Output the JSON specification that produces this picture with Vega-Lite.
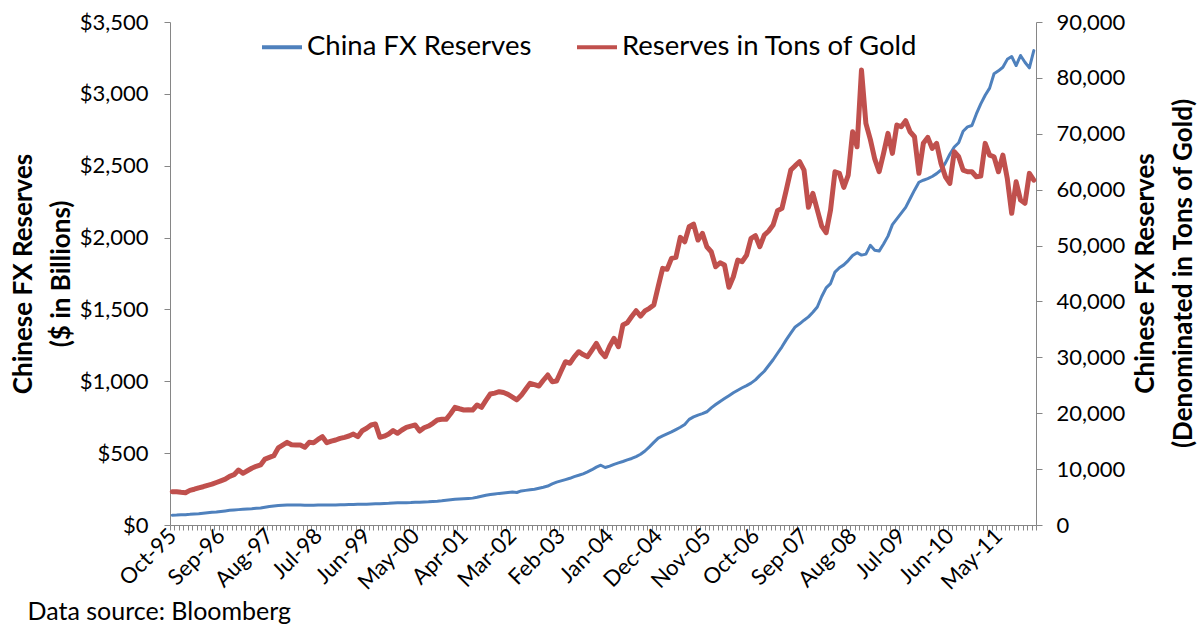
{
  "$schema": "https://vega.github.io/schema/vega-lite/v6.json",
  "width": 866,
  "height": 503,
  "autosize": {"type": "none"},
  "padding": {"left": 170, "top": 22, "right": 166, "bottom": 99},
  "background": "white",
  "config": {
    "font": "Lato",
    "view": {"stroke": null},
    "axis": {
      "grid": false,
      "domainColor": "#868686",
      "tickColor": "#868686",
      "domainWidth": 1,
      "tickWidth": 1,
      "labelFont": "Lato",
      "labelFontSize": 22,
      "labelColor": "#000000",
      "titleFont": "Lato",
      "titleFontSize": 26,
      "titleFontWeight": "bold",
      "titleColor": "#000000"
    }
  },
  "data": {
    "values": [
      {"m":"Oct-95","fx":68,"gold":5960},{"m":"Nov-95","fx":69,"gold":5950},{"m":"Dec-95","fx":71,"gold":5850},
      {"m":"Jan-96","fx":72,"gold":5780},{"m":"Feb-96","fx":74,"gold":6200},{"m":"Mar-96","fx":77,"gold":6400},{"m":"Apr-96","fx":79,"gold":6650},{"m":"May-96","fx":82,"gold":6850},{"m":"Jun-96","fx":85,"gold":7100},{"m":"Jul-96","fx":88,"gold":7300},{"m":"Aug-96","fx":90,"gold":7600},{"m":"Sep-96","fx":94,"gold":7900},{"m":"Oct-96","fx":98,"gold":8200},{"m":"Nov-96","fx":102,"gold":8700},{"m":"Dec-96","fx":105,"gold":9000},
      {"m":"Jan-97","fx":107,"gold":9840},{"m":"Feb-97","fx":109,"gold":9250},{"m":"Mar-97","fx":111,"gold":9700},{"m":"Apr-97","fx":113,"gold":10150},{"m":"May-97","fx":116,"gold":10500},{"m":"Jun-97","fx":118,"gold":10750},{"m":"Jul-97","fx":123,"gold":11800},{"m":"Aug-97","fx":128,"gold":12100},{"m":"Sep-97","fx":132,"gold":12400},{"m":"Oct-97","fx":135,"gold":13800},{"m":"Nov-97","fx":137,"gold":14300},{"m":"Dec-97","fx":139,"gold":14795},
      {"m":"Jan-98","fx":139,"gold":14350},{"m":"Feb-98","fx":139,"gold":14312},{"m":"Mar-98","fx":139,"gold":14300},{"m":"Apr-98","fx":138,"gold":13900},{"m":"May-98","fx":138,"gold":14795},{"m":"Jun-98","fx":138,"gold":14724},{"m":"Jul-98","fx":139,"gold":15300},{"m":"Aug-98","fx":139,"gold":15797},{"m":"Sep-98","fx":139,"gold":14724},{"m":"Oct-98","fx":140,"gold":15000},{"m":"Nov-98","fx":140,"gold":15207},{"m":"Dec-98","fx":141,"gold":15500},
      {"m":"Jan-99","fx":141,"gold":15690},{"m":"Feb-99","fx":142,"gold":15922},{"m":"Mar-99","fx":143,"gold":16280},{"m":"Apr-99","fx":144,"gold":15797},{"m":"May-99","fx":145,"gold":16870},{"m":"Jun-99","fx":145,"gold":17300},{"m":"Jul-99","fx":146,"gold":17890},{"m":"Aug-99","fx":147,"gold":18069},{"m":"Sep-99","fx":148,"gold":15690},{"m":"Oct-99","fx":150,"gold":15900},{"m":"Nov-99","fx":151,"gold":16280},{"m":"Dec-99","fx":153,"gold":16900},
      {"m":"Jan-00","fx":154,"gold":16405},{"m":"Feb-00","fx":155,"gold":17000},{"m":"Mar-00","fx":155,"gold":17479},{"m":"Apr-00","fx":156,"gold":17700},{"m":"May-00","fx":158,"gold":17890},{"m":"Jun-00","fx":159,"gold":16817},{"m":"Jul-00","fx":160,"gold":17400},{"m":"Aug-00","fx":161,"gold":17711},{"m":"Sep-00","fx":163,"gold":18200},{"m":"Oct-00","fx":165,"gold":18800},{"m":"Nov-00","fx":168,"gold":18909},{"m":"Dec-00","fx":172,"gold":18909},
      {"m":"Jan-01","fx":176,"gold":19900},{"m":"Feb-01","fx":179,"gold":21056},{"m":"Mar-01","fx":181,"gold":20800},{"m":"Apr-01","fx":183,"gold":20573},{"m":"May-01","fx":185,"gold":20600},{"m":"Jun-01","fx":187,"gold":20573},{"m":"Jul-01","fx":193,"gold":21467},{"m":"Aug-01","fx":200,"gold":21056},{"m":"Sep-01","fx":207,"gold":22300},{"m":"Oct-01","fx":212,"gold":23436},{"m":"Nov-01","fx":216,"gold":23600},{"m":"Dec-01","fx":220,"gold":23848},
      {"m":"Jan-02","fx":223,"gold":23700},{"m":"Feb-02","fx":226,"gold":23383},{"m":"Mar-02","fx":229,"gold":22900},{"m":"Apr-02","fx":226,"gold":22400},{"m":"May-02","fx":237,"gold":23200},{"m":"Jun-02","fx":241,"gold":24300},{"m":"Jul-02","fx":245,"gold":25350},{"m":"Aug-02","fx":249,"gold":25100},{"m":"Sep-02","fx":256,"gold":24867},{"m":"Oct-02","fx":263,"gold":25900},{"m":"Nov-02","fx":271,"gold":26835},{"m":"Dec-02","fx":286,"gold":25636},
      {"m":"Jan-03","fx":298,"gold":25761},{"m":"Feb-03","fx":307,"gold":27500},{"m":"Mar-03","fx":316,"gold":29215},{"m":"Apr-03","fx":325,"gold":28929},{"m":"May-03","fx":337,"gold":30100},{"m":"Jun-03","fx":346,"gold":31004},{"m":"Jul-03","fx":356,"gold":30500},{"m":"Aug-03","fx":370,"gold":30110},{"m":"Sep-03","fx":385,"gold":31300},{"m":"Oct-03","fx":403,"gold":32507},{"m":"Nov-03","fx":416,"gold":31000},{"m":"Dec-03","fx":400,"gold":30110},
      {"m":"Jan-04","fx":410,"gold":32000},{"m":"Feb-04","fx":422,"gold":33400},{"m":"Mar-04","fx":432,"gold":31898},{"m":"Apr-04","fx":442,"gold":35780},{"m":"May-04","fx":453,"gold":36192},{"m":"Jun-04","fx":463,"gold":37300},{"m":"Jul-04","fx":476,"gold":38339},{"m":"Aug-04","fx":492,"gold":37390},{"m":"Sep-04","fx":515,"gold":38300},{"m":"Oct-04","fx":544,"gold":38768},{"m":"Nov-04","fx":575,"gold":39358},{"m":"Dec-04","fx":605,"gold":42700},
      {"m":"Jan-05","fx":620,"gold":45923},{"m":"Feb-05","fx":634,"gold":45744},{"m":"Mar-05","fx":648,"gold":47712},{"m":"Apr-05","fx":664,"gold":47891},{"m":"May-05","fx":680,"gold":51469},{"m":"Jun-05","fx":700,"gold":50682},{"m":"Jul-05","fx":735,"gold":53365},{"m":"Aug-05","fx":752,"gold":53849},{"m":"Sep-05","fx":765,"gold":50987},{"m":"Oct-05","fx":775,"gold":52186},{"m":"Nov-05","fx":788,"gold":49789},{"m":"Dec-05","fx":815,"gold":48894},
      {"m":"Jan-06","fx":838,"gold":46210},{"m":"Feb-06","fx":860,"gold":46925},{"m":"Mar-06","fx":880,"gold":46514},{"m":"Apr-06","fx":900,"gold":42525},{"m":"May-06","fx":920,"gold":44421},{"m":"Jun-06","fx":938,"gold":47408},{"m":"Jul-06","fx":955,"gold":47104},{"m":"Aug-06","fx":970,"gold":48304},{"m":"Sep-06","fx":987,"gold":51290},{"m":"Oct-06","fx":1010,"gold":51756},{"m":"Nov-06","fx":1041,"gold":49789},{"m":"Dec-06","fx":1070,"gold":51881},
      {"m":"Jan-07","fx":1110,"gold":52600},{"m":"Feb-07","fx":1150,"gold":53670},{"m":"Mar-07","fx":1195,"gold":56230},{"m":"Apr-07","fx":1240,"gold":56658},{"m":"May-07","fx":1290,"gold":60000},{"m":"Jun-07","fx":1335,"gold":63500},{"m":"Jul-07","fx":1378,"gold":64300},{"m":"Aug-07","fx":1400,"gold":65000},{"m":"Sep-07","fx":1425,"gold":63500},{"m":"Oct-07","fx":1448,"gold":56837},{"m":"Nov-07","fx":1480,"gold":59342},{"m":"Dec-07","fx":1517,"gold":56400},
      {"m":"Jan-08","fx":1590,"gold":53491},{"m":"Feb-08","fx":1650,"gold":52293},{"m":"Mar-08","fx":1680,"gold":56354},{"m":"Apr-08","fx":1760,"gold":63206},{"m":"May-08","fx":1790,"gold":62919},{"m":"Jun-08","fx":1810,"gold":60414},{"m":"Jul-08","fx":1840,"gold":62615},{"m":"Aug-08","fx":1875,"gold":70362},{"m":"Sep-08","fx":1895,"gold":67679},{"m":"Oct-08","fx":1878,"gold":81400},{"m":"Nov-08","fx":1885,"gold":71866},{"m":"Dec-08","fx":1946,"gold":69000},
      {"m":"Jan-09","fx":1912,"gold":65500},{"m":"Feb-09","fx":1906,"gold":63206},{"m":"Mar-09","fx":1955,"gold":66500},{"m":"Apr-09","fx":2010,"gold":70076},{"m":"May-09","fx":2090,"gold":66498},{"m":"Jun-09","fx":2130,"gold":71560},{"m":"Jul-09","fx":2170,"gold":71256},{"m":"Aug-09","fx":2210,"gold":72330},{"m":"Sep-09","fx":2270,"gold":70362},{"m":"Oct-09","fx":2330,"gold":69466},{"m":"Nov-09","fx":2385,"gold":62919},{"m":"Dec-09","fx":2399,"gold":68286},
      {"m":"Jan-10","fx":2410,"gold":69359},{"m":"Feb-10","fx":2425,"gold":67392},{"m":"Mar-10","fx":2445,"gold":68286},{"m":"Apr-10","fx":2470,"gold":64708},{"m":"May-10","fx":2520,"gold":62300},{"m":"Jun-10","fx":2580,"gold":61131},{"m":"Jul-10","fx":2630,"gold":66784},{"m":"Aug-10","fx":2660,"gold":65890},{"m":"Sep-10","fx":2740,"gold":63510},{"m":"Oct-10","fx":2770,"gold":63206},{"m":"Nov-10","fx":2780,"gold":63206},{"m":"Dec-10","fx":2860,"gold":62311},
      {"m":"Jan-11","fx":2930,"gold":62436},{"m":"Feb-11","fx":2990,"gold":68286},{"m":"Mar-11","fx":3040,"gold":66194},{"m":"Apr-11","fx":3140,"gold":65890},{"m":"May-11","fx":3160,"gold":63206},{"m":"Jun-11","fx":3185,"gold":66194},{"m":"Jul-11","fx":3240,"gold":62000},{"m":"Aug-11","fx":3260,"gold":55764},{"m":"Sep-11","fx":3197,"gold":61417},{"m":"Oct-11","fx":3267,"gold":58143},{"m":"Nov-11","fx":3220,"gold":57553},{"m":"Dec-11","fx":3181,"gold":62919},
      {"m":"Jan-12","fx":3301,"gold":61721}
    ]
  },
  "encoding": {
    "x": {
      "field": "m",
      "type": "ordinal",
      "sort": null,
      "scale": {"type": "band", "paddingInner": 0, "paddingOuter": 0},
      "axis": {
        "tickBand": "extent",
        "tickSize": 5,
        "labelAngle": -45,
        "labelAlign": "right",
        "labelBaseline": "middle",
        "labelPadding": 2,
        "labelOverlap": false,
        "labelExpr": "indexof(['Oct-95','Sep-96','Aug-97','Jul-98','Jun-99','May-00','Apr-01','Mar-02','Feb-03','Jan-04','Dec-04','Nov-05','Oct-06','Sep-07','Aug-08','Jul-09','Jun-10','May-11'], datum.value) >= 0 ? datum.label : ''",
        "title": "Data source: Bloomberg",
        "titleFontWeight": "normal",
        "titleFontSize": 25,
        "titleAlign": "left",
        "titleAnchor": "start",
        "titleBaseline": "alphabetic",
        "titleX": -143,
        "titleY": 94
      }
    }
  },
  "layer": [
    {
      "mark": {"type": "line", "color": "#4F81BD", "strokeWidth": 3, "strokeJoin": "round", "strokeCap": "round"},
      "encoding": {
        "y": {
          "field": "fx",
          "type": "quantitative",
          "scale": {"domain": [0, 3500], "nice": false},
          "axis": {
            "orient": "left",
            "values": [0, 500, 1000, 1500, 2000, 2500, 3000, 3500],
            "format": "$,.0f",
            "tickSize": 6,
            "labelPadding": 16,
            "title": ["Chinese FX Reserves", "($ in Billions)"],
            "titleLineHeight": 38,
            "titlePadding": 5
          }
        },
        "color": {
          "datum": "China FX Reserves",
          "scale": {"domain": ["China FX Reserves", "Reserves in Tons of Gold"], "range": ["#4F81BD", "#C0504D"]},
          "legend": {
            "title": null,
            "orient": "none",
            "direction": "horizontal",
            "legendX": 90,
            "legendY": 3,
            "symbolType": "stroke",
            "symbolSize": 1600,
            "symbolStrokeWidth": 4,
            "labelFont": "Lato",
            "labelFontSize": 27.5,
            "labelColor": "#000000",
            "labelLimit": 600,
            "labelOffset": 3,
            "columnPadding": 37
          }
        }
      }
    },
    {
      "mark": {"type": "line", "color": "#C0504D", "strokeWidth": 5, "strokeJoin": "round", "strokeCap": "round"},
      "encoding": {
        "y": {
          "field": "gold",
          "type": "quantitative",
          "scale": {"domain": [0, 90000], "nice": false},
          "axis": {
            "orient": "right",
            "values": [0, 10000, 20000, 30000, 40000, 50000, 60000, 70000, 80000, 90000],
            "format": ",d",
            "tickSize": 6,
            "labelPadding": 14,
            "title": ["Chinese FX Reserves", "(Denominated in Tons of Gold)"],
            "titleAngle": 270,
            "titleLineHeight": 38,
            "titleBaseline": "top",
            "titleAlign": "center",
            "titleX": 96,
            "titleY": 251
          }
        },
        "color": {"datum": "Reserves in Tons of Gold"}
      }
    }
  ],
  "resolve": {"scale": {"y": "independent"}}
}
